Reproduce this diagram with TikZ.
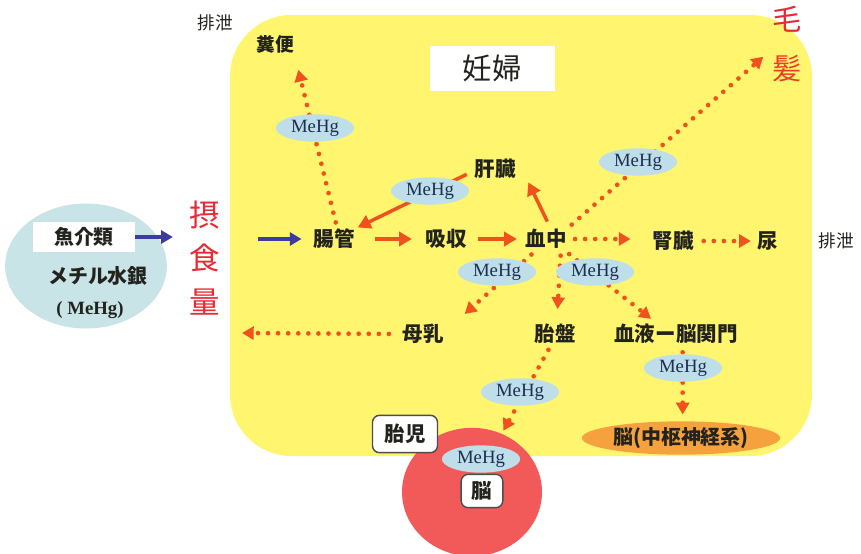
\documentclass[tikz,border=0pt]{standalone}
\usepackage{fontspec}
\usetikzlibrary{arrows.meta,shapes.geometric,backgrounds}
\newfontfamily\jp{Noto Sans CJK JP}
\newfontfamily\mfont{Liberation Serif}
\definecolor{ylw}{RGB}{255,245,110}
\definecolor{fishblue}{RGB}{200,228,230}
\definecolor{mblue}{RGB}{190,222,234}
\definecolor{navy}{RGB}{30,45,80}
\definecolor{orng}{RGB}{240,82,30}
\definecolor{arrblue}{RGB}{60,60,160}
\definecolor{redtxt}{RGB}{232,40,50}
\definecolor{hairred}{RGB}{238,60,40}
\definecolor{fetred}{RGB}{242,90,90}
\definecolor{brainor}{RGB}{245,162,62}
\definecolor{txt}{RGB}{35,35,30}
\pgfdeclarelayer{edges}
\pgfsetlayers{background,edges,main}
\begin{document}
\begin{tikzpicture}[x=0.03cm,y=-0.03cm,
  lbl/.style={inner sep=0pt,text=txt,font=\jp\bfseries\fontsize{17.5}{20}\selectfont},
  small/.style={inner sep=0pt,text=txt,font=\jp\fontsize{15}{18}\selectfont},
  mehg/.style={ellipse,fill=mblue,minimum width=2.35cm,minimum height=0.82cm,inner sep=0pt,text=navy,font=\mfont\fontsize{16}{18}\selectfont},
  solidarr/.style={draw=orng,line width=3pt,-{Triangle[length=11pt,width=12pt]}},
  dotarr/.style={draw=orng,line width=4pt,line cap=round,dash pattern=on 0pt off 8.6pt,-{Triangle[length=10pt,width=11pt]}},
  bluearr/.style={draw=arrblue,line width=3pt,-{Triangle[length=10pt,width=11pt]}},
  wbox/.style={fill=white,draw=black!70,line width=1.2pt,rounded corners=6pt,inner sep=0pt}]
\useasboundingbox (0,0) rectangle (861,553);
% backgrounds
\begin{pgfonlayer}{background}
\fill[white] (0,0) rectangle (861,553);
\fill[ylw,rounded corners=1.85cm] (230,15) rectangle (812,456);
\node[ellipse,fill=fishblue,minimum width=4.85cm,minimum height=3.75cm,inner sep=0pt] (fish) at (86,266) {};
\node[ellipse,fill=fetred,minimum width=4.2cm,minimum height=3.85cm,inner sep=0pt] (fetus) at (472,492) {};
\node[ellipse,fill=brainor,minimum width=5.95cm,minimum height=1.0cm,inner sep=0pt] (brain) at (681,438) {};
\end{pgfonlayer}
% left source
\node[fill=white,minimum width=3.06cm,minimum height=0.9cm,inner sep=0pt,text=txt,font=\jp\bfseries\fontsize{17}{20}\selectfont] (fishbox) at (84,237) {魚介類};
\node[inner sep=0pt,text=txt,font=\jp\bfseries\fontsize{17}{20}\selectfont] (mech) at (98,276) {メチル水銀};
\node[inner sep=0pt,text=txt,font=\mfont\bfseries\fontsize{16}{18}\selectfont] (mehgsrc) at (90,310) {( MeHg)};
\node[inner sep=0pt,align=center,text=redtxt,font=\jp\fontsize{26}{37}\selectfont] (intake) at (205,258) {摂\\食\\量};
% title
\node[fill=white,minimum width=3.75cm,minimum height=1.35cm,inner sep=0pt,font=\jp\fontsize{25}{28}\selectfont,text=txt] (preg) at (492,68) {妊婦};
% hair
\node[inner sep=0pt,align=center,font=\jp\fontsize{25}{42}\selectfont] (hair) at (787,44) {\textcolor{redtxt}{毛}\\\textcolor{hairred}{髪}};
% labels
\node[small] (excr1) at (215,23) {排泄};
\node[lbl,font=\jp\bfseries\fontsize{16}{18}\selectfont] (feces) at (275,44) {糞便};
\node[lbl] (gut) at (334,239) {腸管};
\node[lbl] (absorb) at (446,239) {吸収};
\node[lbl] (blood) at (546,239) {血中};
\node[lbl] (liver) at (495,169) {肝臓};
\node[lbl] (kidney) at (673,241) {腎臓};
\node[lbl] (urine) at (768,241) {尿};
\node[small] (excr2) at (836,241) {排泄};
\node[lbl] (milk) at (423,334) {母乳};
\node[lbl] (placenta) at (555,334) {胎盤};
\node[lbl] (bbb) at (676,334) {血液ー脳関門};
\node[lbl,font=\jp\bfseries\fontsize{17}{20}\selectfont] (brainlbl) at (brain) {脳(中枢神経系)};
% MeHg ellipses
\node[mehg] (m1) at (315,128) {MeHg};
\node[mehg] (m2) at (430,191) {MeHg};
\node[mehg] (m3) at (638,162) {MeHg};
\node[mehg] (m4) at (497,272) {MeHg};
\node[mehg] (m5) at (595,272) {MeHg};
\node[mehg] (m6) at (520,392) {MeHg};
\node[mehg] (m7) at (683,368) {MeHg};
\node[mehg] (m8) at (481,459) {MeHg};
% fetus boxes
\node[wbox,minimum width=1.95cm,minimum height=1.12cm,lbl] (fetlbl) at (405,434) {胎児};
\node[wbox,minimum width=1.25cm,minimum height=1.0cm,lbl] (fetbrain) at (482,491) {脳};
% free ends
\coordinate (bstart) at (258,239);
\coordinate (milkend) at (242,333);
% connectors
\begin{pgfonlayer}{edges}
\draw[bluearr,shorten >=0.5cm] (fishbox.east) -- (fishbox.east -| intake.west);
\draw[bluearr,shorten >=0.35cm] (bstart) -- (gut.west);
\draw[solidarr,shorten <=0.6cm,shorten >=0.4cm] (gut.east) -- (absorb.west);
\draw[solidarr,shorten <=0.35cm,shorten >=0.25cm] (absorb.east) -- (blood.west);
\draw[dotarr,shorten <=0.25cm,shorten >=0.65cm] (blood.east) -- (kidney.west |- blood.east);
\draw[dotarr,shorten <=0.3cm,shorten >=0.2cm] (kidney.east) -- (urine.west);
\draw[solidarr,shorten <=0.25cm] ([xshift=0.15cm]blood.north) -- ([xshift=1.0cm,yshift=-0.1cm]liver.south);
\draw[solidarr,shorten <=0.25cm,shorten >=0.1cm] ([yshift=-0.05cm]liver.west) -- (gut.north east);
\draw[dotarr,shorten <=0.2cm] ([xshift=0.1cm]gut.north) -- ([xshift=0.7cm,yshift=-0.5cm]feces.south);
\draw[dotarr,shorten <=0.2cm,shorten >=0.35cm] (blood.north east) -- ([yshift=-0.15cm]hair.west);
\draw[dotarr,shorten <=0.25cm] ([xshift=-0.25cm]blood.south) -- ([xshift=1.25cm,yshift=0.3cm]milk.north);
\draw[dotarr,shorten <=0.2cm,shorten >=0.45cm] ([xshift=0.45cm]blood.south) -- ([xshift=0.05cm]placenta.north);
\draw[dotarr,shorten <=0.25cm,shorten >=0.25cm] ([xshift=0.5cm]blood.south) -- ([xshift=-0.55cm]bbb.north);
\draw[dotarr,shorten <=0.4cm] (milk.west) -- (milkend);
\draw[dotarr,shorten <=0.2cm,shorten >=0.1cm] ([xshift=-0.1cm]placenta.south) -- (fetus.63);
\draw[dotarr,shorten <=0.25cm,shorten >=0.2cm] ([xshift=0.2cm]bbb.south) -- ([xshift=0.05cm]brain.north);
\end{pgfonlayer}
\end{tikzpicture}
\end{document}
